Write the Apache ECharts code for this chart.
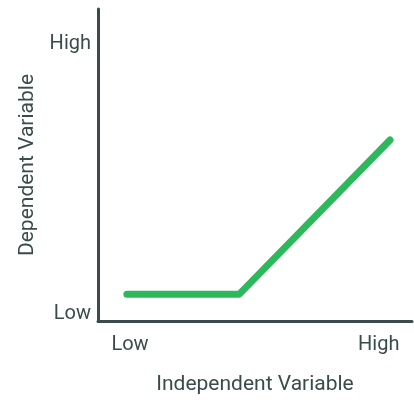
<!DOCTYPE html>
<html>
<head>
<meta charset="utf-8">
<script src="https://cdn.jsdelivr.net/npm/echarts@6/dist/echarts.min.js"></script>
<style>
html,body{margin:0;padding:0;background:#fff;}
#chart{width:414px;height:400px;}
</style>
</head>
<body>
<div id="chart"></div>
<script>
// Data (normalized 0-100 scale)
const xValues = [9.2, 45.0, 93.0];
const yValues = [8.6, 8.6, 58.0];
const xTickValues = [10.2, 89.4];
const xTickLabels = ['Low', 'High'];
const yTickValues = [2.2, 88.9];
const yTickLabels = ['Low', 'High'];
const xName = 'Independent Variable';
const yName = 'Dependent Variable';

const seriesData = xValues.map((x, i) => [x, yValues[i]]);
const textColor = '#3a4b4b';
const fontFamily = 'Roboto, sans-serif';

const chart = echarts.init(document.getElementById('chart'), null, {renderer: 'canvas'});
chart.setOption({
  animation: false,
  grid: {left: 98, right: 2, top: 9, bottom: 76, containLabel: false},
  xAxis: {
    type: 'value', min: 0, max: 100,
    name: xName, nameLocation: 'middle', nameGap: 53,
    nameTextStyle: {color: textColor, fontSize: 21, fontFamily},
    axisLine: {show: true, lineStyle: {color: '#3a4b4b', width: 3}},
    axisTick: {show: false},
    splitLine: {show: false},
    axisLabel: {
      customValues: xTickValues,
      formatter: v => xTickLabels[xTickValues.indexOf(v)] ?? '',
      color: textColor, fontSize: 20, fontFamily, margin: 14
    }
  },
  yAxis: {
    type: 'value', min: 0, max: 100,
    name: yName, nameLocation: 'middle', nameGap: 56,
    nameTextStyle: {color: textColor, fontSize: 21, fontFamily},
    axisLine: {show: true, lineStyle: {color: '#3a4b4b', width: 3}},
    axisTick: {show: false},
    splitLine: {show: false},
    axisLabel: {
      customValues: yTickValues,
      formatter: v => yTickLabels[yTickValues.indexOf(v)] ?? '',
      color: textColor, fontSize: 20, fontFamily, margin: 7
    }
  },
  series: [{
    type: 'line',
    data: seriesData,
    symbol: 'none',
    lineStyle: {color: '#2eb85c', width: 7, cap: 'round', join: 'round'}
  }]
});
</script>
</body>
</html>
